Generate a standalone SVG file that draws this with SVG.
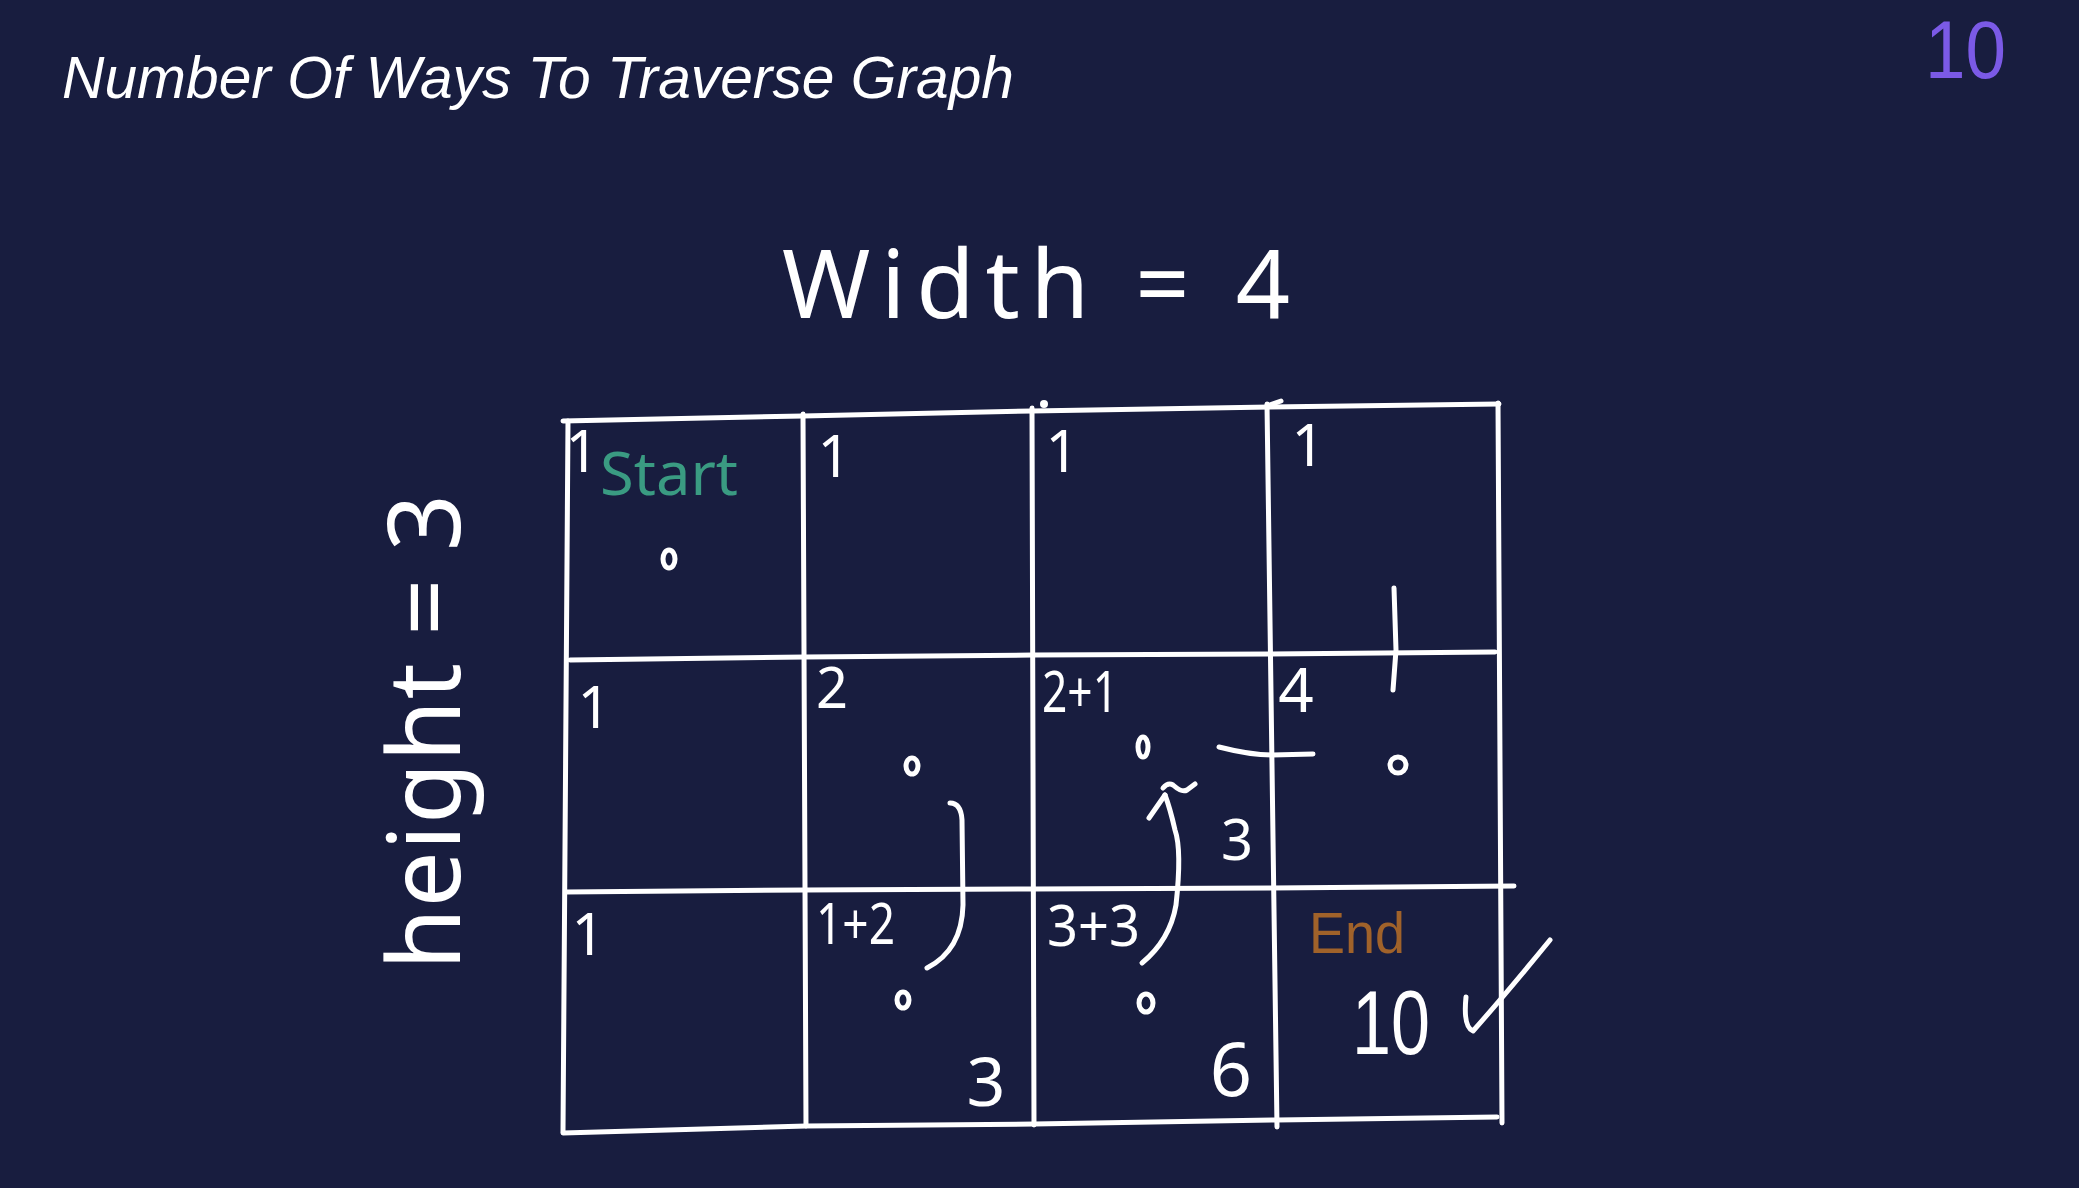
<svg xmlns="http://www.w3.org/2000/svg" width="2079" height="1188" viewBox="0 0 2079 1188">
<style>
.ln{fill:none;stroke:#fff;stroke-width:5;stroke-linecap:round;stroke-linejoin:round}
.hw{font-family:"Noto Sans","DejaVu Sans",sans-serif;fill:#fff}
.ls{font-family:"Liberation Sans",Arial,sans-serif;fill:#fff}
.dot{fill:#181d3f;stroke:#fff;stroke-width:5}
</style>
<rect width="2079" height="1188" fill="#181d3f"/>
<g id="title">
<text x="62" y="98" font-family="Liberation Sans, Arial, sans-serif" font-style="italic" font-size="60" fill="#fff" textLength="952" lengthAdjust="spacingAndGlyphs">Number Of Ways To Traverse Graph</text>
</g>
<g id="counter">
<text class="ls" x="1925" y="78" font-size="82" style="fill:#7b5ae6" textLength="81" lengthAdjust="spacingAndGlyphs">10</text>
</g>
<g id="width-label">
<text class="hw" x="782" y="318" font-size="95" textLength="508">Width = 4</text>
</g>
<g id="height-label">
<text class="hw" transform="translate(460 970) rotate(-90)" x="0" y="0" font-size="100" textLength="476">height = 3</text>
</g>
<g id="grid">
<path class="ln" d="M563 421 L803 416 L1032 411 L1270 407 L1499 404"/>
<path class="ln" d="M570 660 L805 657 L1033 655 L1270 654 L1495 652"/>
<path class="ln" d="M566 892 L805 890 L1033 889 L1272 888 L1514 886"/>
<path class="ln" d="M563 1133 L806 1126 L1034 1124 L1277 1120 L1497 1117"/>
<path class="ln" d="M568 421 L563 1132"/>
<path class="ln" d="M803 414 L806 1126"/>
<path class="ln" d="M1032 408 L1034 1125"/>
<path class="ln" d="M1267 404 L1277 1127"/>
<path class="ln" d="M1498 403 L1502 1123"/>
<circle cx="1044" cy="404" r="4" fill="#fff"/>
<path class="ln" d="M1267 406 L1281 401"/>
</g>
<g id="cell-0-0">
<text class="hw" x="582" y="472" font-size="58" text-anchor="middle">1</text>
<text class="hw" x="600" y="495" font-size="60" textLength="138" lengthAdjust="spacingAndGlyphs" style="fill:#3a9b82">Start</text>
<ellipse class="dot" cx="669" cy="559" rx="6" ry="9"/>
</g>
<g id="cell-0-1"><text class="hw" x="834" y="477" font-size="58" text-anchor="middle">1</text></g>
<g id="cell-0-2"><text class="hw" x="1062" y="472" font-size="58" text-anchor="middle">1</text></g>
<g id="cell-0-3"><text class="hw" x="1308" y="466" font-size="58" text-anchor="middle">1</text></g>
<g id="cell-1-0"><text class="hw" x="594" y="728" font-size="58" text-anchor="middle">1</text></g>
<g id="cell-1-1">
<text class="hw" x="832" y="708" font-size="56" text-anchor="middle">2</text>
<ellipse class="dot" cx="912" cy="766" rx="6" ry="8"/>
</g>
<g id="cell-1-2">
<text class="hw" x="1042" y="712" font-size="56" textLength="76" lengthAdjust="spacingAndGlyphs">2+1</text>
<ellipse class="dot" cx="1143" cy="747" rx="5" ry="10"/>
<text class="hw" x="1237" y="860" font-size="56" text-anchor="middle">3</text>
</g>
<g id="cell-1-3">
<text class="hw" x="1296" y="712" font-size="62" text-anchor="middle">4</text>
<ellipse class="dot" cx="1398" cy="765" rx="8" ry="8"/>
</g>
<g id="cell-2-0"><text class="hw" x="588" y="955" font-size="58" text-anchor="middle">1</text></g>
<g id="cell-2-1">
<text class="hw" x="816" y="944" font-size="56" textLength="79" lengthAdjust="spacingAndGlyphs">1+2</text>
<ellipse class="dot" cx="903" cy="1000" rx="6" ry="8"/>
<text class="hw" x="986" y="1106" font-size="68" text-anchor="middle">3</text>
</g>
<g id="cell-2-2">
<text class="hw" x="1047" y="946" font-size="56" textLength="93" lengthAdjust="spacingAndGlyphs">3+3</text>
<ellipse class="dot" cx="1146" cy="1003" rx="7" ry="9"/>
<text class="hw" x="1231" y="1096" font-size="74" text-anchor="middle">6</text>
</g>
<g id="cell-2-3">
<text class="ls" x="1309" y="953" font-size="58" textLength="96" lengthAdjust="spacingAndGlyphs" style="fill:#a0622a">End</text>
<text class="ls" x="1352" y="1054" font-size="90" textLength="78" lengthAdjust="spacingAndGlyphs">10</text>
</g>
<g id="connectors">
<path class="ln" d="M1394 588 L1396 650 L1393 690"/>
<path class="ln" d="M1219 747 Q1250 755 1272 755 L1313 754"/>
<path class="ln" d="M950 803 Q961 803 962 820 L963 905 Q962 950 927 968"/>
<path class="ln" d="M1142 963 Q1170 940 1176 905 Q1182 850 1175 830 Q1170 808 1165 795"/>
<path class="ln" d="M1149 818 L1165 795"/>
<path class="ln" d="M1163 788 Q1168 782 1173 785 Q1182 793 1187 790 L1195 784"/>
<path class="ln" d="M1466 997 Q1463 1027 1473 1031 Q1505 995 1550 940"/>
</g>
</svg>
